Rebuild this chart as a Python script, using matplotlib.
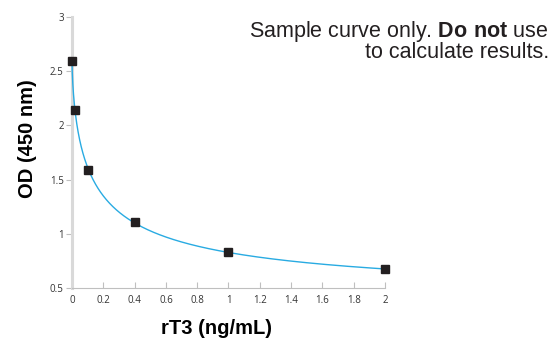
import numpy as np
import matplotlib.pyplot as plt

plt.rcParams['mathtext.fontset'] = 'custom'
plt.rcParams['mathtext.rm'] = 'Liberation Sans'
plt.rcParams['mathtext.bf'] = 'Liberation Sans:bold'

# standards
conc = [0.0, 0.02, 0.1, 0.4, 1.0, 2.0]
od = [2.59, 2.14, 1.59, 1.11, 0.83, 0.675]

x_ticks = [0, 0.2, 0.4, 0.6, 0.8, 1, 1.2, 1.4, 1.6, 1.8, 2]
y_ticks = [0.5, 1, 1.5, 2, 2.5, 3]

# 4PL fit with top fixed at the zero standard:
# y = d + (a - d) / (1 + (x/c)^b); grid over b, c, linear solve for d
xs = np.array(conc)
ys = np.array(od)
a = od[0]
best = None
for b in np.linspace(0.3, 2.0, 86):
    for c in np.logspace(-4, 1, 251):
        h = 1 - 1.0 / (1.0 + (xs / c) ** b)
        k = np.dot(h, ys - a) / np.dot(h, h)
        err = np.sum((a + k * h - ys) ** 2)
        if best is None or err < best[0]:
            best = (err, b, c, k)
_, b, c, k = best
xf = np.linspace(0, 2, 4000)
yf = a + k * (1 - 1 / (1 + (xf / c) ** b))

fig = plt.figure(figsize=(5.51, 3.43), dpi=100)
ax = fig.add_axes([0.1307, 0.1603, 0.568, 0.790])

ax.plot(xf, yf, color='#29abe2', lw=1.0, zorder=3, clip_on=False)
ax.plot(conc, od, 's', color='#231f20', ms=6, zorder=4, clip_on=False)

ax.set_xlim(0, 2)
ax.set_ylim(0.5, 3)
ax.set_xticks(x_ticks)
ax.set_xticklabels([f'{t:g}' for t in x_ticks])
ax.set_yticks(y_ticks)
ax.set_yticklabels([f'{t:g}' for t in y_ticks])

for s in ['top', 'right']:
    ax.spines[s].set_visible(False)
ax.spines['left'].set_color('#d9d9d9')
ax.spines['left'].set_linewidth(2.2)
ax.spines['bottom'].set_color('#bfbfbf')
ax.spines['bottom'].set_linewidth(0.8)

ax.tick_params(axis='x', direction='in', length=4, color='#bfbfbf', labelsize=7,
               labelcolor='#333333', pad=5)
ax.tick_params(axis='y', direction='out', length=4, color='#bfbfbf', labelsize=7,
               labelcolor='#333333', pad=2)
for lab in ax.get_xticklabels() + ax.get_yticklabels():
    lab.set_family('Open Sans')

ax.set_xlabel('rT3 (ng/mL)', fontsize=14.5, fontweight='bold',
              family='Liberation Sans')
ax.xaxis.set_label_coords(0.463, -0.115)
ax.set_ylabel('OD (450 nm)', fontsize=14.5, fontweight='bold',
              family='Liberation Sans')
ax.yaxis.set_label_coords(-0.112, 0.55)

fig.text(0.996, 0.946, 'Sample curve only. $\\mathbf{Do\\ not}$ use\nto calculate results.',
         ha='right', va='top', fontsize=15.5, family='Liberation Sans',
         color='#231f20', linespacing=0.9)

fig.savefig('out.png', dpi=100)
